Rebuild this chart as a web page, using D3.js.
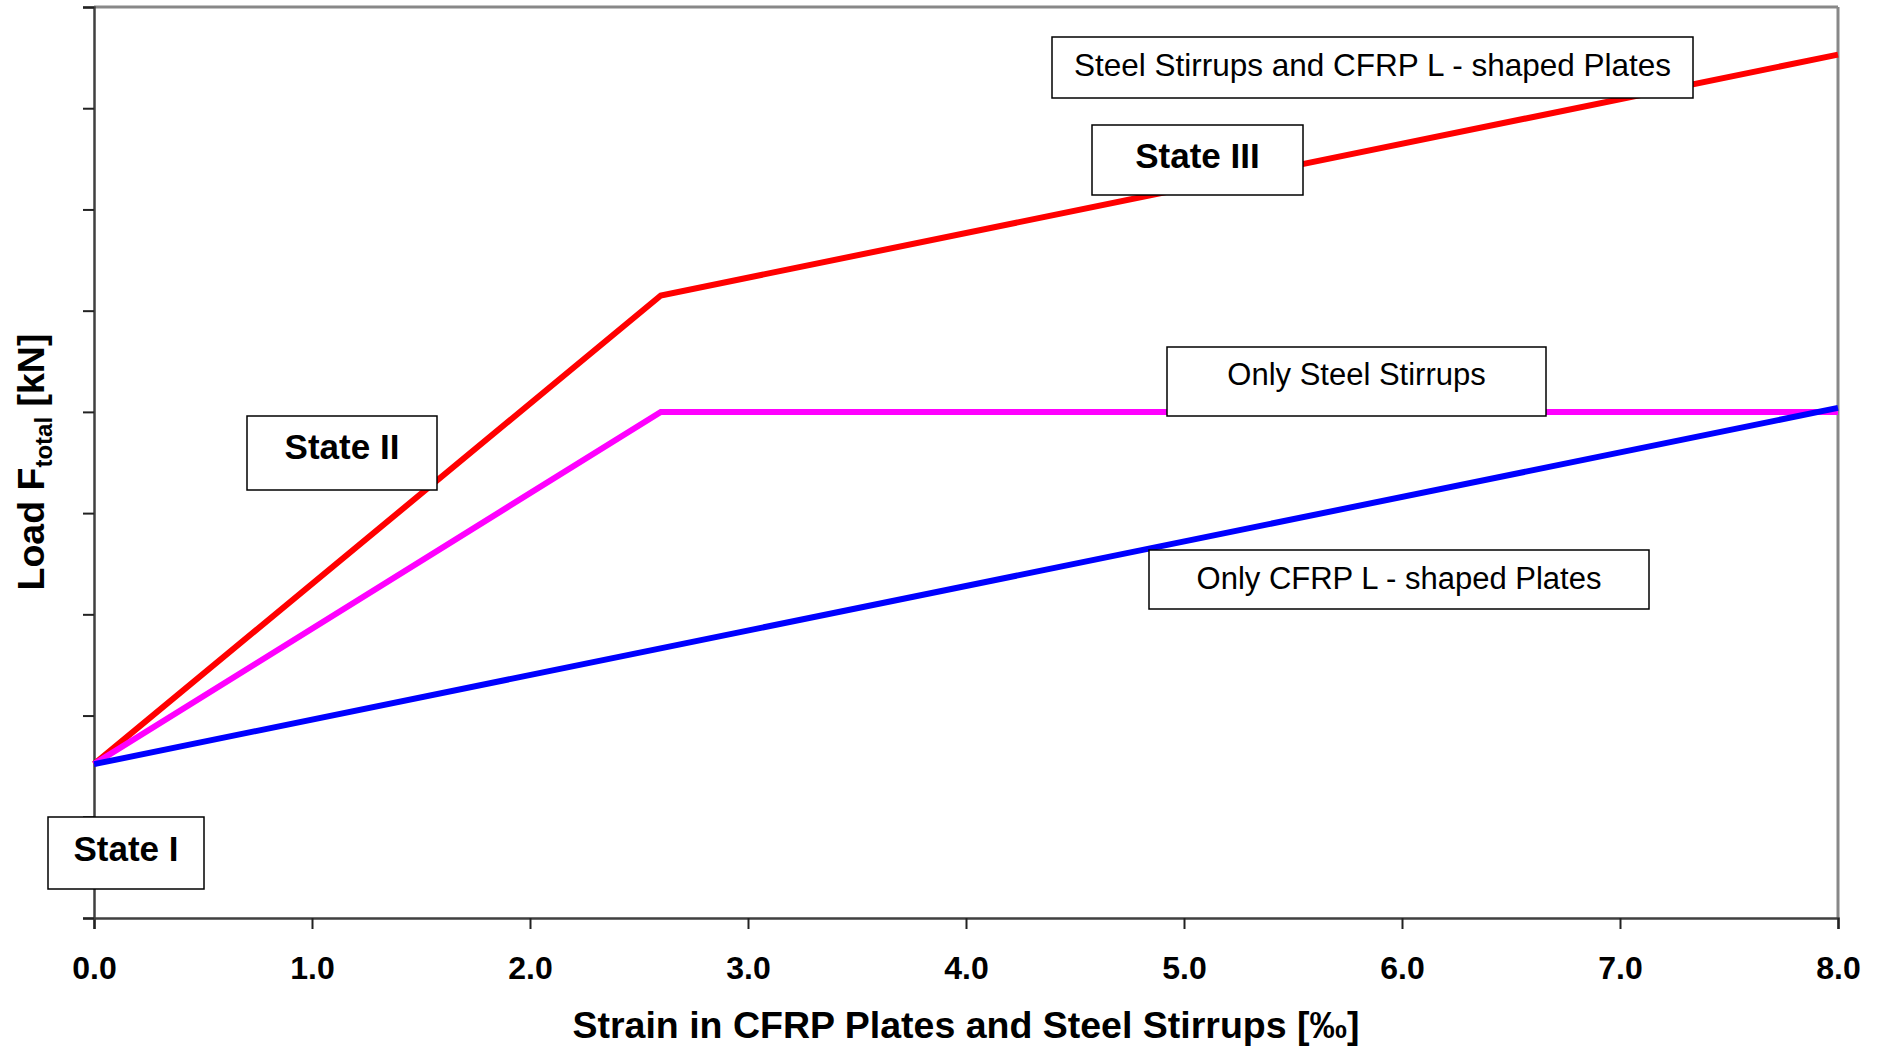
<!DOCTYPE html>
<html>
<head>
<meta charset="utf-8">
<script src="https://cdn.jsdelivr.net/npm/d3@7"></script>
<style>
  html, body { margin: 0; padding: 0; background: #fff; }
  svg { display: block; font-family: "Liberation Sans", Arial, sans-serif; }
</style>
</head>
<body>
<svg id="chart" width="1883" height="1051"></svg>
<script>
// ---- data ----
const xTicks = [0, 1, 2, 3, 4, 5, 6, 7, 8];
const yTicks = [0, 1, 2, 3, 4, 5, 6, 7, 8, 9];
const combinedX = [0, 2.6, 8.0];
const combinedY = [1.52, 6.15, 8.53];
const steelX = [0, 2.6, 8.0];
const steelY = [1.52, 5.0, 5.0];
const cfrpX = [0, 8.0];
const cfrpY = [1.52, 5.04];
const labelTexts = ["Steel Stirrups and CFRP L - shaped Plates", "State III", "Only Steel Stirrups",
                    "Only CFRP L - shaped Plates", "State II", "State I"];

// ---- layout ----
const W = 1883, H = 1051;
const m = { left: 94, right: 1838, top: 7, bottom: 918 };
const boxLayout = [
  { x0: 1052, x1: 1693, y0: 37,  y1: 98,  ty: 76,  size: 31.5, weight: "normal" },
  { x0: 1092, x1: 1303, y0: 125, y1: 195, ty: 168, size: 35, weight: "bold" },
  { x0: 1167, x1: 1546, y0: 347, y1: 416, ty: 385, size: 31, weight: "normal" },
  { x0: 1149, x1: 1649, y0: 550, y1: 609, ty: 589, size: 31, weight: "normal" },
  { x0: 247,  x1: 437,  y0: 416, y1: 490, ty: 459, size: 35, weight: "bold" },
  { x0: 48,   x1: 204,  y0: 817, y1: 889, ty: 861, size: 35, weight: "bold" }
];

const svg = d3.select("#chart");
const x = d3.scaleLinear().domain([0, 8]).range([m.left, m.right]);
const y = d3.scaleLinear().domain([0, 9]).range([m.bottom, m.top]);

// frame: top & right border (gray)
svg.append("line").attr("x1", m.left).attr("x2", m.right).attr("y1", m.top).attr("y2", m.top)
  .attr("stroke", "#888").attr("stroke-width", 3);
svg.append("line").attr("x1", m.right).attr("x2", m.right).attr("y1", m.top).attr("y2", m.bottom)
  .attr("stroke", "#888").attr("stroke-width", 3);

// axes
const xAxis = d3.axisBottom(x).tickValues(xTicks).tickSize(11).tickPadding(27)
  .tickFormat(d3.format(".1f"));
const gx = svg.append("g").attr("transform", `translate(0,${m.bottom})`).call(xAxis);
gx.select(".domain").attr("stroke", "#404040").attr("stroke-width", 2.5);
gx.selectAll(".tick line").attr("stroke", "#222").attr("stroke-width", 2);
gx.selectAll(".tick text").attr("font-size", 32).attr("font-weight", "bold").attr("fill", "#000")
  .attr("font-family", "'Liberation Sans', Arial, sans-serif").attr("dy", "0.0em")
  .attr("y", 61);

const yAxis = d3.axisLeft(y).tickValues(yTicks).tickSize(11).tickFormat("");
const gy = svg.append("g").attr("transform", `translate(${m.left},0)`).call(yAxis);
gy.select(".domain").attr("stroke", "#404040").attr("stroke-width", 2.5);
gy.selectAll(".tick line").attr("stroke", "#222").attr("stroke-width", 2);

// axis titles
svg.append("text").attr("x", (m.left + m.right) / 2).attr("y", 1038)
  .attr("text-anchor", "middle").attr("font-size", 37.5).attr("font-weight", "bold")
  .text("Strain in CFRP Plates and Steel Stirrups [‰]");

const yt = svg.append("text").attr("transform", "translate(44,462) rotate(-90)")
  .attr("text-anchor", "middle").attr("font-size", 37.5).attr("font-weight", "bold");
yt.append("tspan").text("Load F");
yt.append("tspan").attr("font-size", 24).attr("dy", 8).text("total");
yt.append("tspan").attr("dy", -8).text(" [kN]");

// lines
const line = d3.line().x(d => x(d[0])).y(d => y(d[1]));
const series = [
  { xs: combinedX, ys: combinedY, color: "#ff0000" },
  { xs: steelX, ys: steelY, color: "#ff00ff" },
  { xs: cfrpX, ys: cfrpY, color: "#0000ff" }
];
series.forEach(s => {
  const pts = s.xs.map((v, i) => [v, s.ys[i]]);
  svg.append("path").datum(pts).attr("d", line).attr("fill", "none")
    .attr("stroke", s.color).attr("stroke-width", 6).attr("stroke-linejoin", "miter");
});

// annotation boxes
labelTexts.forEach((t, i) => {
  const b = boxLayout[i];
  svg.append("rect").attr("x", b.x0).attr("y", b.y0).attr("width", b.x1 - b.x0).attr("height", b.y1 - b.y0)
    .attr("fill", "#fff").attr("stroke", "#000").attr("stroke-width", 1.5);
  svg.append("text").attr("x", (b.x0 + b.x1) / 2).attr("y", b.ty).attr("text-anchor", "middle")
    .attr("font-size", b.size).attr("font-weight", b.weight).attr("fill", "#000").text(t);
});
</script>
</body>
</html>
